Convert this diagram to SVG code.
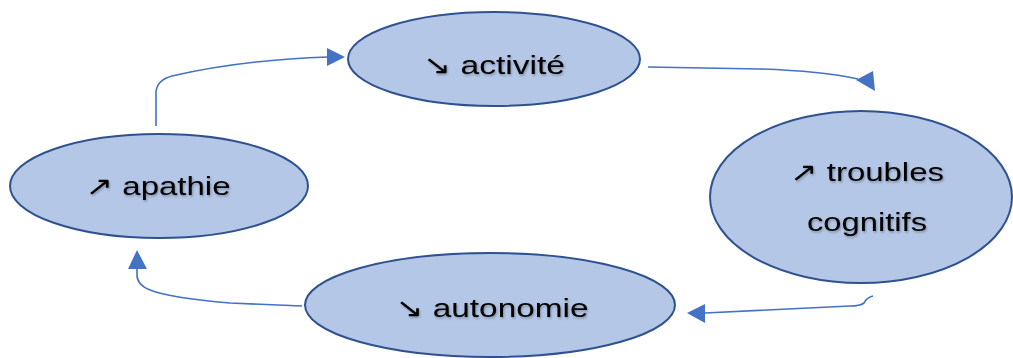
<svg xmlns="http://www.w3.org/2000/svg" width="1013" height="358" viewBox="0 0 1013 358">
<style>
.node{fill:#B4C7E7;stroke:#2F528F;stroke-width:2}
.lbl{font-family:"Liberation Sans","DejaVu Sans",sans-serif;font-size:26px;fill:#000;text-anchor:middle;filter:url(#sh)}
.conn{fill:none;stroke:#4472C4;stroke-width:1.6}
.head{fill:#4472C4}
</style>
<defs>
<filter id="sh" x="-10%" y="-30%" width="120%" height="160%">
<feDropShadow dx="1" dy="1.5" stdDeviation="1" flood-color="#000" flood-opacity="0.3"/>
</filter>
</defs>
<rect width="1013" height="358" fill="#fff"/>
<g id="connectors">
<path class="conn" d="M156,126 L156,92 Q157,80 172,76 Q240,60 328,57"/>
<polygon class="head" points="345,57 327,48 327,66"/>
<path class="conn" d="M648,67 L760,69 Q820,71 858,79"/>
<polygon class="head" points="856,80 873,71 875,91"/>
<path class="conn" d="M873,296 Q866,298 864,303 Q860,306 850,306 L705,313"/>
<polygon class="head" points="687,313 705,304 705,323"/>
<path class="conn" d="M302,306 L230,303 Q170,298 150,290 Q137,285 137,275 L137,268"/>
<polygon class="head" points="137,250 128,269 147,269"/>
</g>
<g id="node-activite">
<ellipse class="node" cx="494" cy="59" rx="146" ry="47"/>
<text class="lbl" x="494" y="74" textLength="142" lengthAdjust="spacingAndGlyphs">↘ activité</text>
</g>
<g id="node-troubles">
<ellipse class="node" cx="861" cy="197" rx="151" ry="86"/>
<text class="lbl" x="867" y="181" textLength="154" lengthAdjust="spacingAndGlyphs">↗ troubles</text>
<text class="lbl" x="867" y="231" textLength="120" lengthAdjust="spacingAndGlyphs">cognitifs</text>
</g>
<g id="node-apathie">
<ellipse class="node" cx="159" cy="186" rx="149" ry="52"/>
<text class="lbl" x="158" y="195" textLength="145" lengthAdjust="spacingAndGlyphs">↗ apathie</text>
</g>
<g id="node-autonomie">
<ellipse class="node" cx="490" cy="305" rx="185" ry="52"/>
<text class="lbl" x="492" y="317" textLength="193" lengthAdjust="spacingAndGlyphs">↘ autonomie</text>
</g>
</svg>
